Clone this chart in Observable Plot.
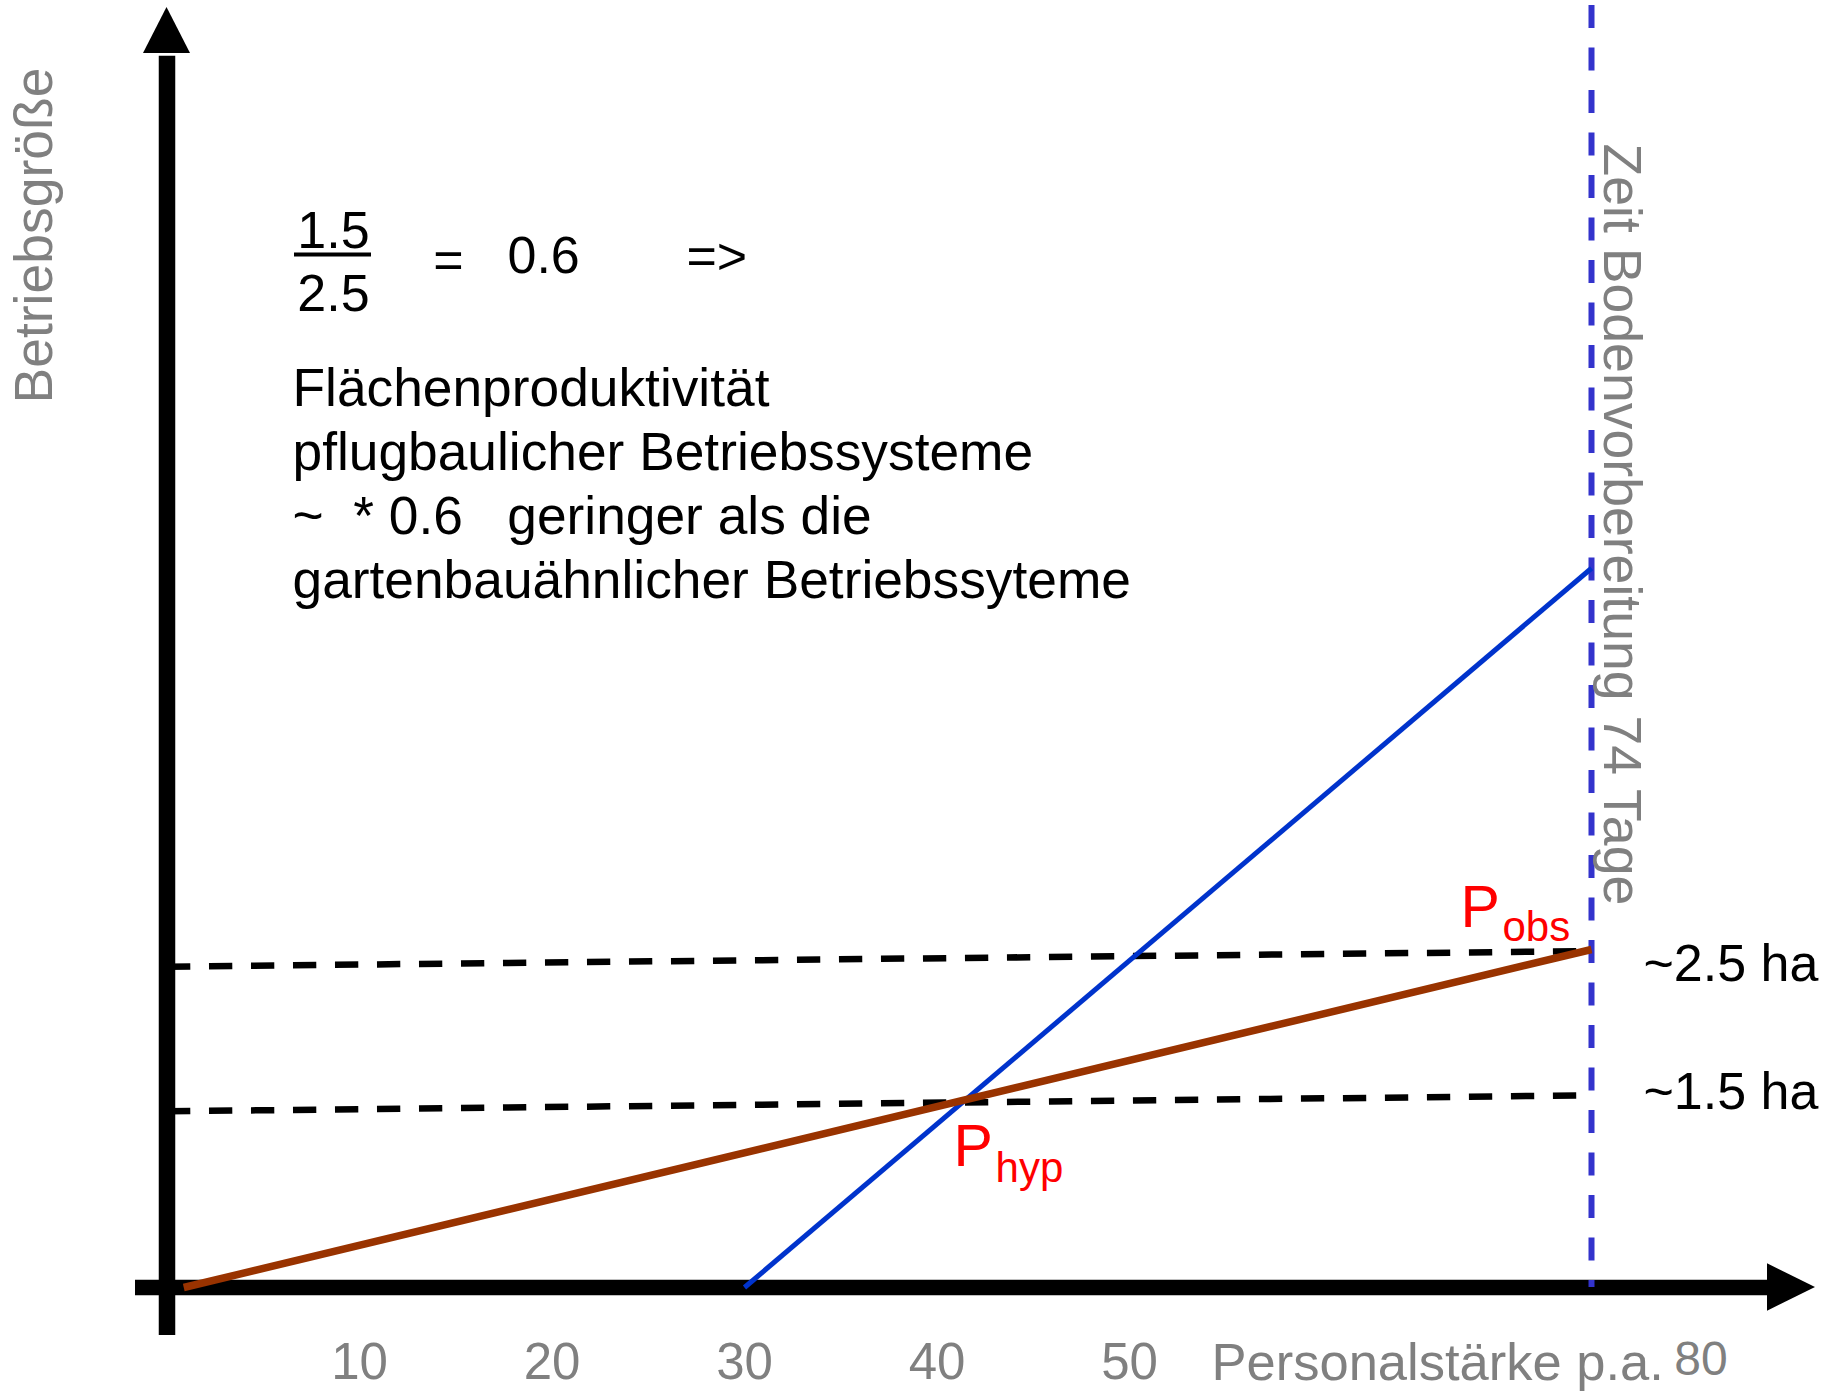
<!DOCTYPE html>
<html>
<head>
<meta charset="utf-8">
<script src="https://cdn.jsdelivr.net/npm/d3@7"></script>
<script src="https://cdn.jsdelivr.net/npm/@observablehq/plot@0.6"></script>
<style>
  html, body { margin: 0; padding: 0; background: #fff; }
  svg { display: block; }
  svg text { white-space: pre; }
</style>
</head>
<body>
<div id="chart"></div>
<script>
// ---------------- data ----------------
const xTicks = [10, 20, 30, 40, 50];
const xTickEnd = 80;
const xLabel = "Personalstärke p.a.";
const yLabel = "Betriebsgröße";
const tillageDays = 74;
const tillageLabel = "Zeit Bodenvorbereitung 74 Tage";
// Betriebsgröße (ha) against Personalstärke
const plowX = [0.87, 74];          // brown line (pflugbauliche Systeme)
const plowY = [0, 2.5];
const gardenX = [30, 74];          // blue line (gartenbauähnliche Systeme)
const gardenY = [0, 5.32];
const refUpperX = [0, 73.3];       // dashed reference ~2.5 ha
const refUpperY = [2.373, 2.487];
const refLowerX = [0, 73.3];       // dashed reference ~1.5 ha
const refLowerY = [1.303, 1.42];
const refLabels = ["~2.5 ha", "~1.5 ha"];
const fractionTop = "1.5";
const fractionBottom = "2.5";
const ratioText = "0.6";
const noteLines = [
  "Flächenproduktivität",
  "pflugbaulicher Betriebssysteme",
  "~  * 0.6   geringer als die",
  "gartenbauähnlicher Betriebssyteme"
];
const pointLabels = [{main: "P", sub: "obs"}, {main: "P", sub: "hyp"}];

// ---------------- layout ----------------
const W = 1834, H = 1392;
const X_DOMAIN = [0, 80], X_RANGE = [166.5, 1706.5];
const Y_DOMAIN = [0, 2.5], Y_RANGE = [1287, 949];
const xs = d3.scaleLinear(X_DOMAIN, X_RANGE);
const ys = d3.scaleLinear(Y_DOMAIN, Y_RANGE);
const FONT = "'Liberation Sans', Arial, Helvetica, sans-serif";
const GRAY = "#808080", RED = "#ff0000";

const pts = (X, Y) => X.map((x, i) => ({x, y: Y[i]}));
const plow = pts(plowX, plowY);
const garden = pts(gardenX, gardenY);
const refUpper = pts(refUpperX, refUpperY);
const refLower = pts(refLowerX, refLowerY);

// intersection of the two lines (P_hyp)
function intersect(a, b) {
  const s1 = (a[1].y - a[0].y) / (a[1].x - a[0].x);
  const s2 = (b[1].y - b[0].y) / (b[1].x - b[0].x);
  const x = (b[0].y - a[0].y + s1 * a[0].x - s2 * b[0].x) / (s1 - s2);
  return {x, y: a[0].y + s1 * (x - a[0].x)};
}
const pHyp = intersect(plow, garden);
const pObs = plow[1];

// free text placed in pixel coordinates from the top-left corner
const label = (str, px, py, opts = {}) =>
  Plot.text([str], {
    text: d => d, frameAnchor: "top-left", dx: px, dy: py,
    textAnchor: "start", lineAnchor: "bottom",
    fontSize: 53, fill: "black", ...opts
  });
// text attached to a data point
const atPoint = (p, str, dx, dy, opts = {}) =>
  Plot.text([p], {
    x: "x", y: "y", text: () => str, dx, dy,
    textAnchor: "start", lineAnchor: "bottom",
    fontSize: 53, fill: "black", ...opts
  });

// axis geometry (pixel -> data)
const axisXStart = xs.invert(135), axisXHeadBase = xs.invert(1767), axisXTip = xs.invert(1815);
const axisYStart = ys.invert(1335), axisYHeadBase = ys.invert(53), axisYTip = ys.invert(7);
const headHalfH = ys.invert(1287 - 23.7);   // in y units
const headHalfW = xs.invert(166.5 + 23.5);  // in x units

const chart = Plot.plot({
  width: W, height: H, margin: 0,
  x: {domain: X_DOMAIN, range: X_RANGE, axis: null},
  y: {domain: Y_DOMAIN, range: Y_RANGE, axis: null},
  style: {fontFamily: FONT, background: "white", overflow: "visible"},
  marks: [
    // dashed reference lines
    Plot.line(refUpper, {x: "x", y: "y", stroke: "black", strokeWidth: 6.5, strokeDasharray: "23.3 18.7", strokeLinecap: "butt"}),
    Plot.line(refLower, {x: "x", y: "y", stroke: "black", strokeWidth: 6.5, strokeDasharray: "23.3 18.7", strokeLinecap: "butt"}),
    // axes
    Plot.ruleY([0], {x1: axisXStart, x2: axisXHeadBase + 0.2, stroke: "black", strokeWidth: 15.5}),
    Plot.ruleX([0], {y1: axisYStart, y2: axisYHeadBase - 0.02, stroke: "black", strokeWidth: 16.5}),
    Plot.areaY([{x: axisXHeadBase, a: -headHalfH, b: headHalfH}, {x: axisXTip, a: 0, b: 0}],
      {x: "x", y1: "a", y2: "b", fill: "black"}),
    Plot.areaX([{y: axisYHeadBase, a: -headHalfW, b: headHalfW}, {y: axisYTip, a: 0, b: 0}],
      {y: "y", x1: "a", x2: "b", fill: "black"}),
    // vertical dashed line (tillage period)
    Plot.ruleX([tillageDays], {y1: ys.invert(5), y2: 0, stroke: "#3333cc", strokeWidth: 6, strokeDasharray: "23 19.5"}),
    // lines
    Plot.line(garden, {x: "x", y: "y", stroke: "#0033cc", strokeWidth: 5, strokeLinecap: "butt"}),
    Plot.line(plow, {x: "x", y: "y", stroke: "#993300", strokeWidth: 7.5, strokeLinecap: "butt"}),
    // tick labels
    Plot.text(xTicks, {x: d => d, text: d => String(d), frameAnchor: "bottom", dy: -14, lineAnchor: "bottom",
      fontSize: 51, fill: GRAY}),
    Plot.text([xTickEnd], {x: d => d, text: d => String(d), frameAnchor: "bottom", dx: -6, dy: -18, lineAnchor: "bottom", fontSize: 48, fill: GRAY}),
    // axis titles
    label(xLabel, 1211, 1379, {fill: GRAY, fontSize: 52.5}),
    label(yLabel, 51, 403, {fill: GRAY, rotate: -90, fontSize: 53.5}),
    Plot.text([tillageDays], {x: d => d, text: () => tillageLabel, frameAnchor: "top", dx: 12, dy: 143, rotate: 90,
      textAnchor: "start", lineAnchor: "bottom", fontSize: 53.6, fill: GRAY}),
    // equation
    label(fractionTop, 333, 247, {textAnchor: "middle", fontSize: 52}),
    label(fractionBottom, 333, 310, {textAnchor: "middle", fontSize: 52}),
    Plot.ruleY([ys.invert(254)], {x1: xs.invert(294), x2: xs.invert(371), stroke: "black", strokeWidth: 4}),
    label("=", 448, 277, {textAnchor: "middle", fontSize: 52}),
    label(ratioText, 507, 272, {fontSize: 52}),
    label("=>", 686, 273, {fontSize: 52}),
    label(noteLines.join("\n"), 292, 597, {lineHeight: 64 / 53.3, fontSize: 53.3}),
    // reference labels
    atPoint(refUpper[1], refLabels[0], 1643 - xs(refUpper[1].x), 980 - ys(refUpper[1].y), {fontSize: 52}),
    atPoint(refLower[1], refLabels[1], 1643 - xs(refLower[1].x), 1108.3 - ys(refLower[1].y), {fontSize: 52}),
    // point labels
    atPoint(pObs, pointLabels[0].main, -131, -22.3, {fill: RED, fontSize: 59}),
    atPoint(pObs, pointLabels[0].sub, -89, -9, {fill: RED, fontSize: 42}),
    atPoint(pHyp, pointLabels[1].main, -12, 66, {fill: RED, fontSize: 59}),
    atPoint(pHyp, pointLabels[1].sub, 30, 82, {fill: RED, fontSize: 42})
  ]
});
document.getElementById("chart").appendChild(chart);
</script>
</body>
</html>
